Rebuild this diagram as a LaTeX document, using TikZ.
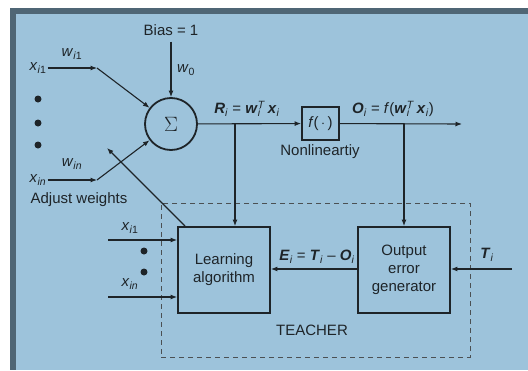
\documentclass[tikz,border=0pt]{standalone}
\usepackage{fontspec}
\setmainfont{Liberation Sans}
\usetikzlibrary{arrows.meta}
\definecolor{paper}{HTML}{9DC3DB}
\definecolor{frame}{HTML}{4F6675}
\definecolor{ink}{HTML}{1E2428}
% bold italic symbol, and a subscript/superscript pair stacked on one spot
\newcommand\bsym[1]{\textbf{\textit{#1}}}
\newcommand\subsupp[2]{\rlap{\textsubscript{#1}}\textsuperscript{#2}}
\begin{document}
\begin{tikzpicture}[x=1pt,y=-1pt,
  font=\fontsize{15}{18}\selectfont,
  ln/.style={draw=ink, line width=1.1pt},
  arr/.style={ln, -{Latex[length=6.5pt,width=5pt]}},
  blk/.style={draw=ink, line width=1.8pt, rectangle, inner sep=0pt, align=center, text=ink},
  lbl/.style={text=ink, inner sep=1pt},
  dot/.style={circle, fill=ink, minimum size=7pt, inner sep=0pt}]

% page, dark frame strip and tinted panel
\fill[white] (0,0) rectangle (528,370);
\fill[frame] (10,8) rectangle (528,370);
\fill[paper] (16,14) rectangle (528,370);
\useasboundingbox (0,0) rectangle (528,370);

% teacher enclosure
\node[draw=ink!80, dashed, line width=0.8pt, dash pattern=on 5pt off 4pt,
      minimum width=309pt, minimum height=154pt, inner sep=0pt] (teacher) at (315.5,280) {};
\node[lbl] (teachlbl) at (312,330) {TEACHER};

% main blocks
\node[draw=ink, line width=1.8pt, circle, minimum size=52pt, inner sep=0pt, text=ink] (sum) at (171,124) {\fontsize{20}{20}\selectfont$\Sigma$};
\node[blk, minimum width=37pt, minimum height=33pt] (fbox) at (320.5,123.5) {\textit{f}(\,$\cdot$\,)};
\node[blk, minimum width=92pt, minimum height=86pt] (learn) at (224,270) {Learning\\algorithm};
\node[blk, minimum width=92pt, minimum height=86pt] (outgen) at (404,270) {Output\\error\\generator};

% bias input
\node[lbl] (bias) at (171,30) {Bias = 1};
\draw[arr, shorten <=5pt] (bias) -- (sum);
\node[lbl] (w0) at (186,70) {\textit{w}\textsubscript{0}};

% upper inputs
\node[lbl] (xa) at (38,68) {\textit{x}\textsubscript{\textit{i}1}};
\node[lbl] (xb) at (38,180) {\textit{x}\textsubscript{\textit{in}}};
\coordinate (ka) at (97,68);
\coordinate (kb) at (97,180);
\draw[arr] (xa) -- (ka);
\draw[arr] (xb) -- (kb);
\draw[arr] (ka) -- (sum);
\draw[arr] (kb) -- (sum);
\node[lbl] (wa) at (72,54) {\textit{w}\textsubscript{\textit{i}1}};
\node[lbl] (wb) at (72,164) {\textit{w}\textsubscript{\textit{in}}};
\node[dot] (d1) at (38,99) {};
\node[dot] (d2) at (38,123) {};
\node[dot] (d3) at (38,145) {};

% weight adjustment feedback
\node[lbl] (adjlbl) at (79,200) {Adjust weights};
\coordinate (adjtip) at (107,148);
\coordinate (adjfoot) at ([xshift=8pt]learn.north west);
\draw[arr] (adjfoot) -- (adjtip);

% net input and nonlinearity
\coordinate (rsplit) at (235,124);
\draw[arr] (sum) -- (fbox);
\draw[arr] (rsplit) -- (rsplit |- learn.north);
\node[lbl] (rlbl) at (247,109) {\bsym{R}\textsubscript{\textit{i}} = \bsym{w}\subsupp{\textit{i}}{\textit{T}}\,\bsym{x}\textsubscript{\textit{i}}};
\node[lbl] (nonlin) at (320,152) {Nonlineartiy};

% output
\coordinate (outend) at (462,124);
\coordinate (osplit) at (404,124);
\draw[arr] (fbox) -- (outend);
\draw[arr] (osplit) -- (osplit |- outgen.north);
\node[lbl] (olbl) at (393,109) {\bsym{O}\textsubscript{\textit{i}} = \textit{f}(\bsym{w}\subsupp{\textit{i}}{\textit{T}}\,\bsym{x}\textsubscript{\textit{i}})};

% error path and target
\draw[arr] (outgen.west |- 0,269) -- (learn.east |- 0,269);
\node[lbl] (elbl) at (317,257) {\bsym{E}\textsubscript{\textit{i}} = \bsym{T}\textsubscript{\textit{i}} -- \bsym{O}\textsubscript{\textit{i}}};
\coordinate (tstart) at (512,269);
\draw[arr] (tstart) -- (outgen.east |- 0,269);
\node[lbl] (tlbl) at (487,255) {\bsym{T}\textsubscript{\textit{i}}};

% inputs to the learning algorithm
\coordinate (la) at (108,240);
\coordinate (lb) at (108,297);
\draw[arr] (la) -- (learn.west |- la);
\draw[arr] (lb) -- (learn.west |- lb);
\node[lbl] (xla) at (130,228) {\textit{x}\textsubscript{\textit{i}1}};
\node[lbl] (xlb) at (130,284) {\textit{x}\textsubscript{\textit{in}}};
\node[dot] (d4) at (144,251) {};
\node[dot] (d5) at (144,272) {};
\end{tikzpicture}
\end{document}
